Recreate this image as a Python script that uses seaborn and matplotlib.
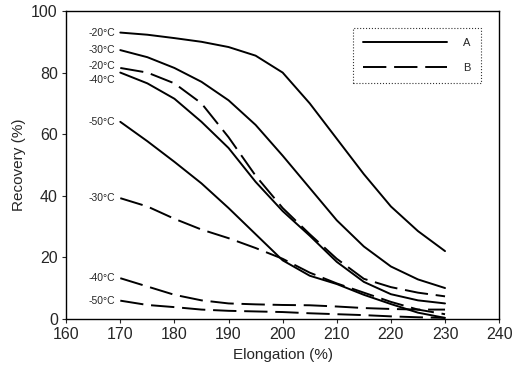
import pandas as pd
import numpy as np
import matplotlib
matplotlib.use('Agg')
import matplotlib.pyplot as plt
from matplotlib.lines import Line2D
import seaborn as sns

# Dados
elongation = [170, 175, 180, 185, 190, 195, 200, 205, 210, 215, 220, 225, 230]

a_m20 = [93.0, 92.3, 91.2, 90.0, 88.3, 85.5, 80.0, 70.0, 58.5, 47.0, 36.5, 28.5, 22.0]
a_m30 = [87.3, 85.0, 81.5, 77.0, 71.0, 63.0, 53.0, 42.5, 32.0, 23.5, 17.0, 12.8, 10.0]
a_m40 = [80.0, 76.5, 71.5, 64.0, 55.5, 44.5, 35.0, 27.0, 18.5, 12.0, 8.0, 6.0, 5.0]
a_m50 = [64.0, 57.7, 51.0, 44.0, 36.0, 27.5, 19.0, 14.0, 11.3, 7.8, 4.8, 2.0, 0.3]

b_m20 = [81.5, 80.0, 76.5, 70.0, 59.0, 46.5, 36.0, 27.5, 19.5, 13.0, 10.3, 8.5, 7.3]
b_m30 = [39.2, 36.5, 32.5, 29.0, 26.2, 23.0, 19.5, 15.0, 11.5, 8.5, 5.5, 3.0, 1.5]
b_m40 = [13.2, 10.5, 7.8, 6.0, 5.0, 4.7, 4.5, 4.4, 4.0, 3.5, 3.2, 3.0, 3.0]
b_m50 = [5.9, 4.5, 3.8, 3.0, 2.6, 2.4, 2.2, 1.8, 1.5, 1.2, 0.8, 0.5, 0.3]

curves = [
    ('A', '-20°C', a_m20), ('A', '-30°C', a_m30), ('A', '-40°C', a_m40), ('A', '-50°C', a_m50),
    ('B', '-20°C', b_m20), ('B', '-30°C', b_m30), ('B', '-40°C', b_m40), ('B', '-50°C', b_m50),
]

x_ticks = [160, 170, 180, 190, 200, 210, 220, 230, 240]
y_ticks = [0, 20, 40, 60, 80, 100]

# Montando tabela longa
rows = []
for amostra, temp, valores in curves:
    for x, y in zip(elongation, valores):
        rows.append({'Elongation': x, 'Recovery': y, 'Amostra': amostra,
                     'Curva': amostra + temp})
df = pd.DataFrame(rows)

sns.set_style('ticks')
plt.rcParams['font.family'] = ['Liberation Sans Narrow', 'Liberation Sans', 'DejaVu Sans']

fig = plt.figure(figsize=(5.13, 3.8), dpi=100)
ax = fig.add_axes([0.129, 0.161, 0.844, 0.81])

sns.lineplot(data=df, x='Elongation', y='Recovery', units='Curva', estimator=None,
             style='Amostra', dashes={'A': '', 'B': (12, 4)}, color='black',
             linewidth=1.4, legend=False, ax=ax)

# Rotulos de temperatura na esquerda (ajuste fino para os que se sobrepoem)
ajuste = {'B-20°C': 0.8, 'A-40°C': -2.5}
for amostra, temp, valores in curves:
    dy = ajuste.get(amostra + temp, 0)
    ax.text(169.0, valores[0] + dy, temp, ha='right', va='center', fontsize=7.5)

ax.set_xlim(160, 240)
ax.set_ylim(0, 100)
ax.set_xticks(x_ticks)
ax.set_yticks(y_ticks)
ax.tick_params(direction='out', length=3, width=0.8, labelsize=11.5, pad=3)
for s in ax.spines.values():
    s.set_visible(True)
    s.set_linewidth(1.0)
    s.set_color('black')

ax.set_xlabel('Elongation (%)', fontsize=11, labelpad=4)
ax.set_ylabel('Recovery (%)', fontsize=11, labelpad=4)

handles = [Line2D([], [], color='black', lw=1.4, ls='-'),
           Line2D([], [], color='black', lw=1.4, dashes=(12, 4))]
leg = ax.legend(handles, ['A', 'B'], loc='upper right', bbox_to_anchor=(0.97, 0.962),
                handlelength=7.5, handletextpad=1.5, fontsize=8, frameon=True,
                fancybox=False, borderpad=0.9, labelspacing=1.3, markerfirst=True)
leg.get_frame().set_edgecolor('black')
leg.get_frame().set_linestyle(':')
leg.get_frame().set_linewidth(0.8)

fig.savefig('out.png', dpi=100)
